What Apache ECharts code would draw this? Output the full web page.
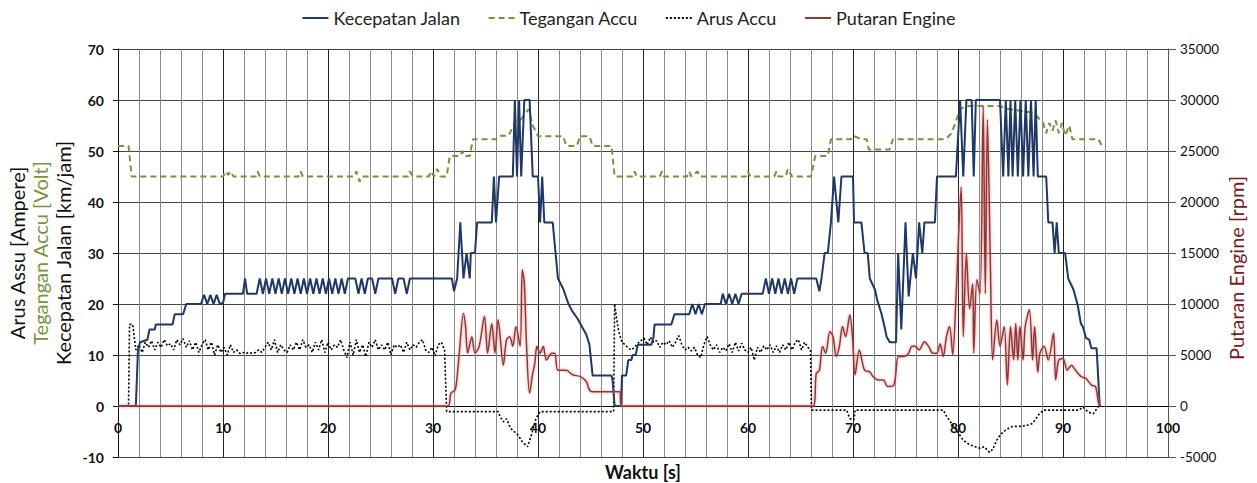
<!DOCTYPE html>
<html>
<head>
<meta charset="utf-8">
<script src="https://cdn.jsdelivr.net/npm/echarts@6/dist/echarts.min.js"></script>
<style>
html,body{margin:0;padding:0;background:#fff;}
#chart{width:1257px;height:483px;}
</style>
</head>
<body>
<div id="chart"></div>
<script>
// ---- Series names ----
const seriesNames = ['Kecepatan Jalan', 'Tegangan Accu', 'Arus Accu', 'Putaran Engine'];
// ---- Axis ticks ----
const xTicks = {min: 0, max: 100, interval: 10};
const leftTicks = {min: -10, max: 70, interval: 10};
const rightTicks = {min: -5000, max: 35000, interval: 5000};

// ---- Kecepatan Jalan [km/jam] : [waktu s, value] ----
const speed = [
[0,0],[1.7,0],[1.9,11],[2.1,12.5],[2.8,13],[3.0,15],[3.5,15],[3.6,16],[5.2,16],[5.4,18],[6.2,18],[6.5,20],[7.9,20],
[8.2,21.8],[8.5,20],[8.8,21.8],[9.1,20],[9.4,21.8],[9.7,20],[10.0,20.2],[10.2,22],[11.9,22],[12.1,25],[12.3,22],[13.2,22],
[13.5,25],[13.8,22],[14.1,25],[14.4,22],[14.7,25],[15.0,22],[15.3,25],[15.6,22],[15.9,25],[16.2,22],[16.5,25],[16.8,22],
[17.1,25],[17.4,22],[17.7,25],[18.0,22],[18.3,25],[18.6,22],[18.9,25],[19.2,22],[19.5,25],[19.8,22],[20.1,25],[20.4,22],
[20.7,25],[21.0,22],[21.3,25],[21.6,22],[21.9,25],[22.6,25],[22.9,22],[23.2,25],[23.5,22],[23.8,25],[24.2,25],[24.5,22],
[24.8,25],[26.1,25],[26.4,22],[26.7,25],[27.2,25],[27.5,22],[27.8,25],[31.8,25],[32.0,22.5],[32.3,25],[32.6,36],[32.9,25],
[33.2,30],[33.5,25],[33.6,30],[34.0,30],[34.2,36],[35.6,36],[35.8,45],[36.0,36],[36.3,45],[37.6,45],[37.8,60],[38.0,45],
[38.2,60],[38.4,45],[38.7,60],[39.2,60],[39.5,45],[40.0,45],[40.2,36],[40.4,45],[40.6,36],[41.4,36],[41.9,25],[42.4,23],
[42.9,20],[43.3,18.5],[43.8,17],[44.2,15.5],[44.6,14],[44.9,12],[45.2,6],[47.0,6],[47.1,5],[47.3,0],[47.9,0],[48.0,6],
[48.4,6],[48.6,9],[48.9,9],[49.0,10],[49.3,10],[49.5,12],[50.8,12],[51.0,13.5],[51.1,16],[52.7,16],[53.0,18],[54.4,18],
[54.7,20],[55.0,18],[55.3,20],[55.6,18],[55.9,20],[57.4,20],[57.6,22],[57.9,20],[58.2,22],[58.5,20],[58.8,22],[59.1,20],
[59.4,22],[61.4,22],[61.7,25],[62.0,22],[62.3,25],[62.6,22],[62.9,25],[63.2,22],[63.5,25],[63.8,22],[64.1,25],[64.4,22],
[64.7,25],[66.5,25],[66.8,22.5],[67.0,25],[67.3,30],[67.6,30],[67.9,36],[68.2,45],[68.6,36],[68.9,45],[70.0,45],[70.1,36],
[70.8,36],[71.1,30],[71.4,30],[71.6,25],[72.1,22.8],[72.3,20.8],[72.7,18.2],[73.0,15.6],[73.2,13.6],[73.5,12.5],[74.1,12.5],
[74.3,30],[74.6,15],[75.0,36],[75.3,21.5],[75.7,30],[76.0,25],[76.3,36],[76.6,30],[76.8,36],[77.8,36],[78.0,45],[79.8,45],
[80.2,60],[80.5,45],[80.8,60],[81.3,60],[81.5,45],[81.7,60],[84.0,60],[84.3,45],[84.55,60],[84.8,45],[85.0,60],[85.2,45],
[85.45,60],[85.7,45],[85.95,60],[86.2,45],[86.45,60],[86.7,45],[86.95,60],[87.2,45],[87.4,60],[87.6,45],[88.4,45],[88.6,36],
[89.0,36],[89.2,30],[89.4,36],[89.6,30],[90.2,30],[90.5,25],[91.0,22.8],[91.4,19.8],[91.7,16.2],[91.9,15.5],[92.2,13.3],
[92.5,13],[92.7,11.3],[93.2,11.3],[93.5,0]
];

// ---- Tegangan Accu [Volt] ----
const voltage = [
[0,51],[1.0,51],[1.3,45],[10.0,45],[10.3,46],[10.5,45.3],[10.7,46],[11.0,45],[13.1,45],[13.3,46],[13.5,45],[17.2,45],
[17.4,46],[17.6,45],[22.5,45],[22.7,46],[23.0,44],[23.2,45],[27.6,45],[27.8,46],[28.1,45],[29.6,45],[29.8,46],[30.1,45],
[30.4,46.5],[30.7,45],[31.3,45],[31.6,49],[32.6,49],[32.8,50],[33.0,49],[33.5,49],[33.8,52.3],[36.0,52.3],[36.3,53],
[37.2,53],[37.9,56],[38.3,56],[39.1,58.2],[39.5,55],[40.0,52.9],[42.4,52.9],[42.7,51],[43.7,51],[44.0,52.9],[44.9,52.9],
[45.2,51],[47.0,51],[47.3,45],[49.0,45],[49.2,46],[49.4,45],[51.6,45],[51.8,46],[52.0,45],[54.2,45],[54.4,46],[54.6,45],
[55.2,46],[55.4,45],[59.8,45],[60.0,46],[60.2,45],[62.5,45],[62.7,46],[62.9,45],[63.6,45],[63.8,46.5],[64.2,45],[66.0,45],
[66.4,49],[67.6,49],[67.9,52.3],[69.8,52.3],[70.0,53],[70.8,52.3],[71.3,52.3],[71.5,50.3],[73.5,50.3],[73.8,52.3],
[78.8,52.3],[79.4,53.5],[80.2,58.2],[80.8,58.8],[84.0,58.8],[84.6,58.3],[87.2,57.5],[88.1,55.5],[88.4,53.5],[88.7,55.5],
[89.0,54],[89.3,56],[89.6,53.5],[89.9,55.5],[90.2,53],[90.6,55],[90.9,52.3],[93.4,52.3],[93.7,51],[94.0,51]
];

// ---- Arus Accu [Ampere] ----
const current = [
[0,0],[1.0,0],[1.1,16],[1.4,16],[1.7,11],[2.0,12],[2.3,10.5],[2.6,12.5],[2.9,11.5],[3.2,12.8],[3.5,11],[3.8,12.5],
[4.1,11.5],[4.4,13],[4.7,11.8],[5.0,12.2],[5.3,11],[5.6,13],[5.9,12],[6.2,13.2],[6.5,11.5],[6.8,12.8],[7.1,11],[7.4,12.5],
[7.7,10.5],[8.0,12],[8.3,13],[8.6,11],[8.9,12.5],[9.2,10],[9.5,12],[9.8,10.5],[10.1,11.5],[10.4,10],[10.7,12],[11.0,10.5],
[11.3,11],[11.6,10.3],[11.9,10.5],[12.2,10.3],[12.5,10.5],[12.8,10.3],[13.1,10.5],[13.4,11],[13.7,10.5],[14.0,11.5],
[14.3,12.5],[14.6,11],[14.9,13],[15.2,10.5],[15.5,12],[15.8,11],[16.1,10.5],[16.4,12],[16.7,11],[17.0,12.5],[17.3,11],
[17.6,13],[17.9,11.5],[18.2,12],[18.5,10.5],[18.8,12.5],[19.1,11],[19.4,13],[19.7,10.5],[20.0,12.5],[20.3,11],[20.6,12],
[20.9,11.5],[21.2,13],[21.5,11],[21.8,9.5],[22.1,12.5],[22.4,10],[22.7,13],[23.0,10.5],[23.3,12],[23.6,9.7],[23.9,12.5],
[24.2,11.5],[24.5,13],[24.8,11],[25.1,12],[25.4,11],[25.7,12.5],[26.0,10],[26.3,12],[26.6,11.5],[26.9,12],[27.2,10.5],
[27.5,12.5],[27.8,11],[28.1,12],[28.4,11.5],[28.7,12.5],[29.0,13],[29.3,11],[29.6,10.5],[29.9,11.5],[30.2,9.8],[30.5,12],
[30.8,12.5],[31.1,11],[31.3,-1.1],[36.2,-1.1],[36.4,-2.1],[36.7,-3.1],[37.0,-2.5],[37.4,-4.4],[38.1,-5.7],[38.5,-7],
[39.0,-8],[39.4,-5.5],[39.8,-2.5],[40.2,-1.1],[47.2,-1.1],[47.3,20],[47.5,17],[47.7,14.5],[48.0,12.5],[48.3,12],[48.6,11.3],
[48.9,11],[49.2,11.5],[49.5,12.3],[49.8,12.8],[50.1,13.3],[50.4,12],[50.7,13.5],[51.0,12.5],[51.3,12.8],[51.6,11.5],
[51.9,12.5],[52.2,12],[52.5,12.8],[52.8,11.5],[53.1,12.5],[53.4,13.8],[53.7,12],[54.0,11],[54.3,11.5],[54.6,10.8],
[54.9,11.5],[55.2,10],[55.5,9.5],[55.8,12],[56.1,13.6],[56.4,12],[56.7,11],[57.0,12],[57.3,10.5],[57.6,11.5],[57.9,10.8],
[58.2,12.2],[58.5,10.5],[58.8,12.5],[59.1,10.8],[59.4,12.3],[59.7,11],[60.0,10.5],[60.3,11.5],[60.6,9],[60.9,11.5],
[61.2,10.5],[61.5,11.8],[61.8,11],[62.1,12],[62.4,10.5],[62.7,11.8],[63.0,10.5],[63.3,12],[63.6,11],[63.9,12.5],[64.2,11],
[64.5,12.5],[64.8,13],[65.1,11],[65.4,12.5],[65.7,11.5],[65.95,11],[66.05,-0.8],[69.4,-0.8],[69.7,-2.5],[70.1,-2.7],
[70.2,-0.8],[78.6,-0.8],[78.9,-2],[79.8,-4.6],[80.5,-6.7],[81.1,-7.6],[82.1,-8.3],[82.5,-8],[83.0,-9.1],[83.3,-8.5],
[83.7,-6.7],[84.0,-5.7],[84.6,-4.6],[85.2,-4],[85.9,-4],[86.8,-3.7],[87.1,-3.4],[87.8,-1.4],[88.2,-0.8],[91.5,-0.8],
[91.9,-0.2],[92.4,-1.2],[92.9,-1.5],[93.4,0]
];

// ---- Putaran Engine [rpm] ----
const rpm = [
[0,0],[31.4,0],[31.7,1250],[32.1,1570],[32.3,2900],[32.5,5170],[32.9,9100],[33.1,7800],[33.3,5170],[33.7,6800],[34.0,5170],
[34.4,5850],[34.9,8800],[35.2,5170],[35.6,8100],[35.9,5170],[36.2,8450],[36.7,4000],[37.0,6500],[37.3,6800],[37.6,5850],
[37.9,7800],[38.3,5850],[38.5,13360],[38.7,12050],[38.9,6150],[39.2,1250],[39.5,3200],[39.7,4200],[39.9,5850],[40.2,5170],
[40.5,5850],[40.8,4500],[41.3,5170],[41.6,5170],[41.9,3500],[42.7,3500],[43.3,3050],[44.0,2900],[44.6,2400],[44.9,1570],
[45.2,1400],[47.8,1400],[47.9,0],[66.2,0],[66.5,3200],[66.8,3500],[67.1,5850],[67.4,5170],[67.8,7300],[68.1,6800],
[68.4,4850],[68.7,5850],[69.0,7800],[69.3,6800],[69.7,8950],[69.95,6800],[70.2,3050],[70.6,5500],[71.1,3500],[71.6,3350],
[71.9,2900],[72.4,2550],[72.9,2550],[73.3,1900],[73.9,2050],[74.3,4850],[74.6,4850],[74.9,4850],[75.3,5170],[75.6,5850],
[75.9,5850],[76.3,5500],[76.8,6300],[77.2,5850],[77.6,5170],[78.0,5170],[78.3,6100],[78.6,4850],[78.9,6800],[79.2,7800],
[79.5,5000],[79.8,10400],[80.3,21500],[80.5,6800],[80.8,15000],[81.1,9500],[81.4,12000],[81.5,5170],[81.8,12400],
[82.1,11000],[82.4,29400],[82.6,11000],[82.8,28100],[83.1,13000],[83.3,4500],[83.7,8450],[84.0,5850],[84.4,7800],
[84.7,2050],[85.0,7800],[85.3,4500],[85.5,8100],[85.7,4500],[85.9,7800],[86.2,4500],[86.4,7800],[86.8,9450],[87.1,4500],
[87.3,7800],[87.6,3300],[87.8,5170],[88.2,5850],[88.6,4500],[89.1,7150],[89.3,2550],[89.6,4500],[90.0,4650],[90.4,3500],
[90.8,4000],[91.2,3500],[91.7,2900],[92.2,2700],[92.7,2050],[93.1,1900],[93.4,250],[93.6,0]
];

const FONT = 'Lato';
// split-line colours per left-axis tick (-10 .. 70): the zero line is black
const hLineColors = ['#444', '#000', '#444', '#444', '#444', '#444', '#444', '#444', '#444'];

const chart = echarts.init(document.getElementById('chart'), null, {renderer: 'svg'});
chart.setOption({
  animation: false,
  backgroundColor: '#fff',
  textStyle: {fontFamily: FONT},
  grid: {left: 118, right: 89, top: 49, bottom: 26, containLabel: false, outerBoundsMode: 'none'},
  legend: {
    top: 4, left: 'center', itemGap: 27, itemWidth: 26, itemHeight: 14,
    itemStyle: {opacity: 0},
    textStyle: {fontFamily: FONT, fontSize: 18, color: '#222'},
    data: seriesNames
  },
  graphic: [
    {
      type: 'text', x: 40, y: 253, rotation: Math.PI / 2,
      style: {
        text: '{a|Arus Assu [Ampere]}\n{b|Tegangan Accu [Volt]}\n{c|Kecepatan Jalan [km/jam]}',
        align: 'center', verticalAlign: 'middle',
        rich: {
          a: {fontFamily: FONT, fontSize: 20, fill: '#111', lineHeight: 23, align: 'center'},
          b: {fontFamily: FONT, fontSize: 20, fill: '#77933c', lineHeight: 23, align: 'center'},
          c: {fontFamily: FONT, fontSize: 20, fill: '#111', lineHeight: 23, align: 'center'}
        }
      }
    },
    {
      type: 'text', x: 1236, y: 268, rotation: Math.PI / 2,
      style: {
        text: 'Putaran Engine [rpm]', align: 'center', verticalAlign: 'middle',
        fontFamily: FONT, fontSize: 20, fill: '#7a1a1a'
      }
    }
  ],
  xAxis: {
    type: 'value', min: xTicks.min, max: xTicks.max, interval: xTicks.interval,
    position: 'bottom',
    name: 'Waktu [s]', nameLocation: 'middle', nameGap: 4,
    nameTextStyle: {fontFamily: FONT, fontSize: 18, fontWeight: 'bold', color: '#111', verticalAlign: 'top'},
    axisLine: {onZero: false, lineStyle: {color: '#444', width: 1}},
    axisTick: {show: false},
    minorTick: {show: false, splitNumber: 5},
    axisLabel: {fontFamily: FONT, fontSize: 14, fontWeight: 'bold', color: '#111', margin: -37},
    splitLine: {show: true, lineStyle: {color: '#222', width: 1}},
    minorSplitLine: {show: true, lineStyle: {color: '#8a8a8a', width: 1}}
  },
  yAxis: [
    {
      type: 'value', min: leftTicks.min, max: leftTicks.max, interval: leftTicks.interval,
      position: 'left',
      axisLine: {show: true, onZero: false, lineStyle: {color: '#111', width: 1}},
      axisTick: {show: true, length: 5, lineStyle: {color: '#111'}},
      axisLabel: {fontFamily: FONT, fontSize: 14, fontWeight: 'bold', color: '#111', margin: 14},
      splitLine: {show: true, lineStyle: {color: hLineColors, width: 1}}
    },
    {
      type: 'value', min: rightTicks.min, max: rightTicks.max, interval: rightTicks.interval,
      position: 'right',
      axisLine: {show: true, onZero: false, lineStyle: {color: '#555', width: 1}},
      axisTick: {show: true, length: 8, lineStyle: {color: '#555'}},
      axisLabel: {fontFamily: FONT, fontSize: 13.5, color: '#111', margin: 12, formatter: v => String(v)},
      splitLine: {show: false}
    }
  ],
  series: [
    {
      name: seriesNames[0], type: 'line', yAxisIndex: 0, data: speed,
      symbol: 'none', z: 3,
      lineStyle: {color: '#1f3864', width: 2}, itemStyle: {color: '#1f3864'}
    },
    {
      name: seriesNames[1], type: 'line', yAxisIndex: 0, data: voltage,
      symbol: 'none', z: 2,
      lineStyle: {color: '#77933c', width: 2, type: [6, 4]}, itemStyle: {color: '#77933c'}
    },
    {
      name: seriesNames[2], type: 'line', yAxisIndex: 0, data: current,
      symbol: 'none', z: 2,
      lineStyle: {color: '#000', width: 1.6, type: [2, 2]}, itemStyle: {color: '#000'}
    },
    {
      name: seriesNames[3], type: 'line', yAxisIndex: 1, data: rpm,
      symbol: 'none', z: 4, smooth: 0.3,
      lineStyle: {color: '#943634', width: 1.5, shadowColor: 'rgba(210,130,130,0.9)', shadowBlur: 3},
      itemStyle: {color: '#943634'}
    }
  ]
});
</script>
</body>
</html>
